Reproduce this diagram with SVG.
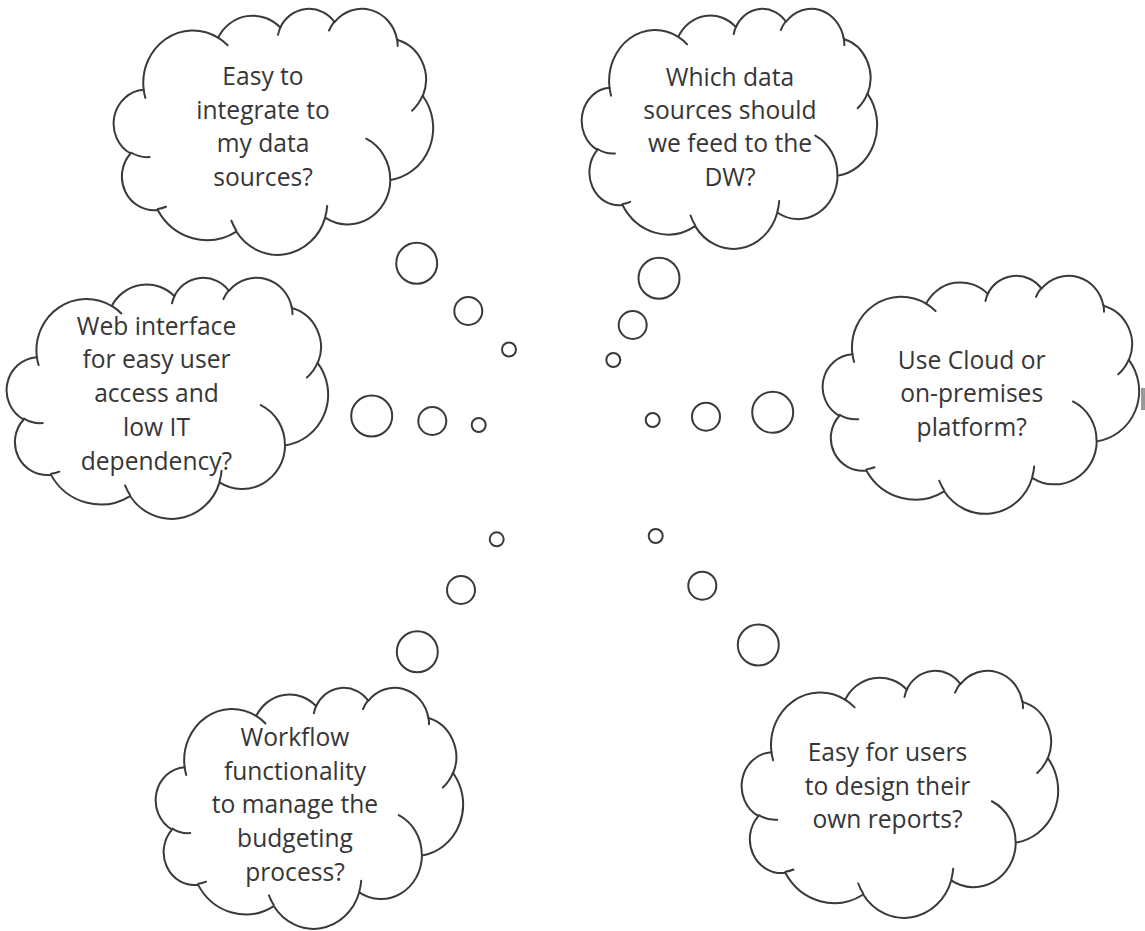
<svg xmlns="http://www.w3.org/2000/svg" xmlns:xlink="http://www.w3.org/1999/xlink" width="1145" height="931" viewBox="0 0 1145 931">
<style>
.cl{fill:#ffffff;stroke:#3a3a3a;stroke-width:2;stroke-linejoin:round}
.ci{fill:none;stroke:#3a3a3a;stroke-width:2;stroke-linecap:round}
.b{fill:#ffffff;stroke:#3a3a3a;stroke-width:2}
.t{font-family:"Open Sans","Liberation Sans",sans-serif;font-size:24.6px;fill:#363636;text-anchor:middle}
</style>
<defs>
<g id="cloud">
<path class="cl" vector-effect="non-scaling-stroke" d="M3900 14370 A6753 9190 0 0 1 14004.3 5201.5 A5333 7267 0 0 1 22455.5 3429.9 A4365 5945 0 0 1 29831.7 2476.8 A4857 6595 0 0 1 38317.2 5571.5 A5333 7273 0 0 1 41817.4 15455.6 A6775 9220 0 0 1 37403.1 30198.6 A5785 7867 0 0 1 28554.4 36808.5 A6752 9215 0 0 1 16480.9 39264 A7720 10543 0 0 1 5805.1 35470.8 A4360 5918 0 0 1 2112.2 25551.3 A4345 5945 0 0 1 3900 14370 Z"/>
<path class="ci" vector-effect="non-scaling-stroke" d="M4693 26177 A4345 5945 0 0 1 2159.7 25379.9 M6928 34899 A4360 5918 0 0 1 5819.5 35280.5 M16478 39090 A6752 9215 0 0 1 15808.2 37345 M28827 34751 A6752 9215 0 0 1 28560.4 36659.9 M34129 22954 A5785 7867 0 0 1 37380.4 30089.6 M41798 15354 A5333 7273 0 0 1 40350.1 18029.4 M38324 5426 A4857 6595 0 0 1 38400.4 6689.7 M29078 3952 A4857 6595 0 0 1 29819.6 2340 M22141 4720 A4365 5945 0 0 1 22539.9 3224.3 M14000 5192 A6753 9190 0 0 1 15300.5 6540.8 M4127 15789 A6753 9190 0 0 1 3900.3 14371.2"/>
</g>
</defs>
<rect width="1145" height="931" fill="#ffffff"/>
<g id="connectors">
<circle class="b" cx="416.7" cy="263.3" r="20.5"/>
<circle class="b" cx="468.3" cy="311" r="14"/>
<circle class="b" cx="509" cy="349.5" r="7"/>
<circle class="b" cx="659" cy="278.3" r="20.5"/>
<circle class="b" cx="632.7" cy="325" r="14"/>
<circle class="b" cx="613.3" cy="360" r="7"/>
<circle class="b" cx="371.7" cy="416" r="20.5"/>
<circle class="b" cx="432.3" cy="421" r="14"/>
<circle class="b" cx="478.7" cy="425" r="7"/>
<circle class="b" cx="652.7" cy="420" r="7"/>
<circle class="b" cx="706" cy="416.7" r="14"/>
<circle class="b" cx="772.7" cy="412.3" r="20.5"/>
<circle class="b" cx="496.7" cy="539.3" r="7"/>
<circle class="b" cx="461" cy="590" r="14"/>
<circle class="b" cx="417.3" cy="651.7" r="20.5"/>
<circle class="b" cx="655.7" cy="536" r="7"/>
<circle class="b" cx="702.3" cy="585.7" r="14"/>
<circle class="b" cx="758.3" cy="645" r="20.5"/>
</g>
<g id="node-integrate">
<use xlink:href="#cloud" transform="translate(115 8) scale(0.0073611 0.0056944)"/>
<text class="t" x="263" y="85">Easy to</text>
<text class="t" x="263" y="118.5">integrate to</text>
<text class="t" x="263" y="152">my data</text>
<text class="t" x="263" y="185.5">sources?</text>
</g>
<g id="node-datasources">
<use xlink:href="#cloud" transform="translate(583 8) scale(0.0068056 0.0055556)"/>
<text class="t" x="730" y="85.5">Which data</text>
<text class="t" x="730" y="118.5">sources should</text>
<text class="t" x="730" y="152">we feed to the</text>
<text class="t" x="730" y="186">DW?</text>
</g>
<g id="node-web">
<use xlink:href="#cloud" transform="translate(8 277) scale(0.0074074 0.0055787)"/>
<text class="t" x="156.5" y="334.5">Web interface</text>
<text class="t" x="156.5" y="368">for easy user</text>
<text class="t" x="156.5" y="402">access and</text>
<text class="t" x="156.5" y="436">low IT</text>
<text class="t" x="156.5" y="469.5">dependency?</text>
</g>
<g id="node-cloud">
<use xlink:href="#cloud" transform="translate(824 275) scale(0.0072917 0.0055093)"/>
<text class="t" x="971.7" y="368.5">Use Cloud or</text>
<text class="t" x="971.7" y="401.5">on-premises</text>
<text class="t" x="971.7" y="435.5">platform?</text>
</g>
<g id="node-workflow">
<use xlink:href="#cloud" transform="translate(157 687) scale(0.0070833 0.0055787)"/>
<text class="t" x="295" y="746">Workflow</text>
<text class="t" x="295" y="780">functionality</text>
<text class="t" x="295" y="813">to manage the</text>
<text class="t" x="295" y="847">budgeting</text>
<text class="t" x="295" y="881">process?</text>
</g>
<g id="node-reports">
<use xlink:href="#cloud" transform="translate(743 670) scale(0.0072917 0.0057176)"/>
<text class="t" x="887.5" y="761">Easy for users</text>
<text class="t" x="887.5" y="794.5">to design their</text>
<text class="t" x="887.5" y="828">own reports?</text>
</g>
<rect x="1141" y="388" width="4" height="22" fill="#555555" opacity="0.6"/>
</svg>
